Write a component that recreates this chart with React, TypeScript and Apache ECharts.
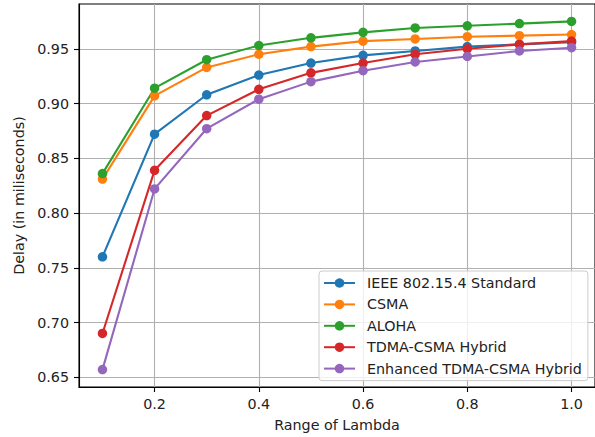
import React, { useEffect, useRef } from "react";
import * as echarts from "echarts";

const lambdas = [0.1, 0.2, 0.3, 0.4, 0.5, 0.6, 0.7, 0.8, 0.9, 1.0];
const ieee = [0.760, 0.872, 0.908, 0.926, 0.937, 0.944, 0.948, 0.952, 0.954, 0.956];
const csma = [0.831, 0.907, 0.933, 0.945, 0.952, 0.957, 0.959, 0.961, 0.962, 0.963];
const aloha = [0.836, 0.914, 0.940, 0.953, 0.960, 0.965, 0.969, 0.971, 0.973, 0.975];
const tdmaHybrid = [0.690, 0.839, 0.889, 0.913, 0.928, 0.937, 0.945, 0.950, 0.954, 0.957];
const enhancedHybrid = [0.657, 0.822, 0.877, 0.904, 0.920, 0.930, 0.938, 0.943, 0.948, 0.951];

const seriesNames = [
  "IEEE 802.15.4 Standard",
  "CSMA",
  "ALOHA",
  "TDMA-CSMA Hybrid",
  "Enhanced TDMA-CSMA Hybrid",
];
const seriesValues = [ieee, csma, aloha, tdmaHybrid, enhancedHybrid];
const colors = ["#1f77b4", "#ff7f0e", "#2ca02c", "#d62728", "#9467bd"];

const xTicks = [0.2, 0.4, 0.6, 0.8, 1.0];
const yTicks = [0.65, 0.7, 0.75, 0.8, 0.85, 0.9, 0.95];

const FONT = "DejaVu Sans";
const TEXT = "#222";
const FS = 14.3;

export default function App() {
  const ref = useRef<HTMLDivElement>(null);
  useEffect(() => {
    if (!ref.current) return;
    const chart = echarts.init(ref.current, null, { renderer: "svg" });
    const xMinD = Math.min(...lambdas);
    const xMaxD = Math.max(...lambdas);
    const xPad = (xMaxD - xMinD) * 0.05;
    const all = seriesValues.flat();
    const yMinD = Math.min(...all);
    const yMaxD = Math.max(...all);
    const yPad = (yMaxD - yMinD) * 0.05;

    chart.setOption({
      animation: false,
      grid: {
        left: 79,
        top: 4,
        width: 518,
        height: 387,
        show: true,
        borderColor: "#000",
        borderWidth: 1.1,
        backgroundColor: "transparent",
      },
      legend: {
        orient: "vertical",
        left: 319,
        top: 271,
        padding: [5, 6, 5, 4],
        itemGap: 7.4,
        itemWidth: 31,
        itemHeight: 11.9,
        backgroundColor: "rgba(255,255,255,0.8)",
        borderColor: "#cccccc",
        borderWidth: 1,
        borderRadius: 3,
        textStyle: {
          fontFamily: FONT,
          fontSize: FS,
          color: TEXT,
          padding: [0, 0, 0, 7],
        },
        data: seriesNames,
      },
      xAxis: {
        type: "value",
        min: xMinD - xPad,
        max: xMaxD + xPad,
        name: "Range of Lambda",
        nameLocation: "middle",
        nameGap: 31,
        nameTextStyle: { fontFamily: FONT, fontSize: FS, color: TEXT },
        axisLine: { show: true, onZero: false, lineStyle: { color: "#000", width: 1.1 } },
        axisTick: {
          show: true,
          length: 5,
          customValues: xTicks,
          lineStyle: { color: "#000", width: 1.1 },
        },
        axisLabel: {
          customValues: xTicks,
          margin: 10,
          fontFamily: FONT,
          fontSize: FS,
          color: TEXT,
          formatter: (v: number) => v.toFixed(1),
        },
        splitLine: { show: true, lineStyle: { color: "#b0b0b0", width: 1.1 } },
      },
      yAxis: {
        type: "value",
        min: yMinD - yPad,
        max: yMaxD + yPad,
        name: "Delay (in miliseconds)",
        nameLocation: "middle",
        nameGap: 50,
        nameTextStyle: { fontFamily: FONT, fontSize: FS, color: TEXT },
        axisLine: { show: true, onZero: false, lineStyle: { color: "#000", width: 1.1 } },
        axisTick: {
          show: true,
          length: 5,
          customValues: yTicks,
          lineStyle: { color: "#000", width: 1.1 },
        },
        axisLabel: {
          customValues: yTicks,
          margin: 10,
          fontFamily: FONT,
          fontSize: FS,
          color: TEXT,
          formatter: (v: number) => v.toFixed(2),
        },
        splitLine: { show: true, lineStyle: { color: "#b0b0b0", width: 1.1 } },
      },
      series: seriesNames.map((name, i) => ({
        name,
        type: "line",
        data: lambdas.map((x, j) => [x, seriesValues[i][j]]),
        symbol: "circle",
        symbolSize: 9.5,
        color: colors[i],
        lineStyle: { width: 2.1, color: colors[i] },
        itemStyle: { color: colors[i] },
        emphasis: { disabled: true },
      })),
    });
    return () => chart.dispose();
  }, []);

  return (
    <div
      ref={ref}
      style={{ position: "fixed", left: 0, top: 0, width: 595, height: 437, background: "#fff" }}
    />
  );
}
